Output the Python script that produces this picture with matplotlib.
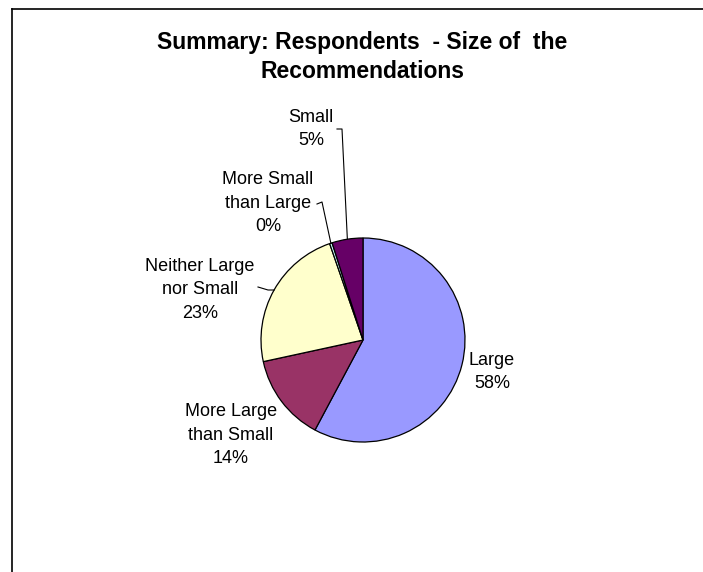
import numpy as np
import matplotlib
matplotlib.use("Agg")
import matplotlib.pyplot as plt

# data
categories = ["Large", "More Large\nthan Small", "Neither Large\nnor Small",
              "More Small\nthan Large", "Small"]
shares = [57.8, 13.8, 23.1, 0.4, 4.9]
colors = ["#9999FF", "#993366", "#FFFFCC", "#CCFFFF", "#660066"]
title = "Summary: Respondents  - Size of  the\nRecommendations"

W, H = 703, 572
plt.rcParams['font.family'] = ['Liberation Sans', 'DejaVu Sans']

fig = plt.figure(figsize=(W / 100, H / 100), dpi=100)
ax = fig.add_axes([0, 0, 1, 1])

# pie in pixel coords (y flipped so top of image is H)
cx, cy, r = 363, H - 340, 102
wedges, _ = ax.pie(shares, colors=colors, startangle=90, counterclock=False,
                   center=(cx, cy), radius=r,
                   wedgeprops=dict(edgecolor='black', linewidth=0.9))

# label positions (pixels from top-left) and optional leader elbows
label_pos = [(492, 372), (231, 435), (200, 290), (268, 203), (311, 129)]
leaders = [None, None, [(258, 287), (268, 290)], [(317, 204), (322, 202)],
           [(337, 129), (342, 129)]]

for w, cat, val, (lx, ly), ld in zip(wedges, categories, shares, label_pos, leaders):
    ax.text(lx, H - ly, f"{cat}\n{val:.0f}%", ha='center', va='center',
            fontsize=13, color='black', linespacing=1.5)
    if ld:
        mid = np.deg2rad((w.theta1 + w.theta2) / 2)
        ex, ey = cx + r * np.cos(mid), cy + r * np.sin(mid)
        xs = [p[0] for p in ld] + [ex]
        ys = [H - p[1] for p in ld] + [ey]
        ax.plot(xs, ys, color='black', linewidth=0.8)

ax.text(362, H - 57, title, ha='center', va='center', fontsize=16.5,
        fontweight='bold', linespacing=1.32)

# chart-area border (only left and top visible in the crop)
ax.plot([12, 12], [0, H - 9], color='black', linewidth=1.2)
ax.plot([12, W], [H - 9, H - 9], color='black', linewidth=1.2)

ax.set_xlim(0, W)
ax.set_ylim(0, H)
ax.set_aspect('equal')
ax.axis('off')

fig.savefig("out.png", dpi=100)
